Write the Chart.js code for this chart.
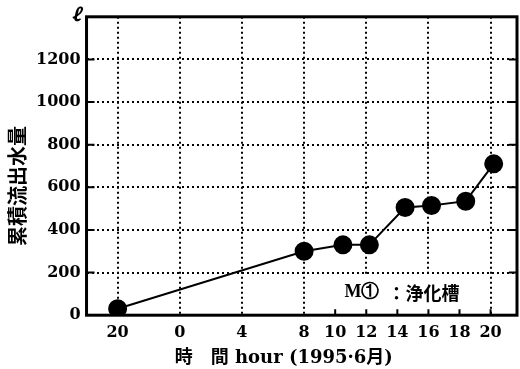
<!DOCTYPE html>
<html lang="ja">
<head>
<meta charset="UTF-8">
<title>累積流出水量</title>
<script src="https://cdn.jsdelivr.net/npm/chart.js"></script>
<style>
  body { margin: 0; background: #fff; }
  #wrap { width: 520px; height: 369px; }
</style>
</head>
<body>
<div id="wrap"><canvas id="flowChart" width="520" height="369"></canvas></div>
<script>
// hours counted from midnight; -4 means 20:00 of the previous day
const hours = [-4, 8, 10.5, 12.2, 14.5, 16.2, 18.4, 20.2];
const flowValues = [30, 300, 330, 330, 505, 515, 535, 710];
const xTickHours = [-4, 0, 4, 8, 10, 12, 14, 16, 18, 20];
const xGridHours = [-4, 0, 4, 8, 12, 16, 20];
const yTicks = [0, 200, 400, 600, 800, 1000, 1200, 1400];
const yUnitLabel = 'ℓ';
const noteText = ['M①', '：浄化槽'];

const serif = "'DejaVu Serif', 'Noto Sans CJK JP', serif";
const cjk = "'Noto Sans CJK JP', 'DejaVu Serif', sans-serif";

// thick frame around the plot + short inward ticks
const framePlugin = {
  id: 'frame',
  afterDraw(chart) {
    const { ctx, chartArea: a, scales: { x, y } } = chart;
    ctx.save();
    ctx.strokeStyle = '#000';
    ctx.lineWidth = 3;
    ctx.strokeRect(a.left, a.top, a.right - a.left, a.bottom - a.top);
    ctx.lineWidth = 2;
    ctx.beginPath();
    yTicks.slice(1, -1).forEach(v => {
      const py = y.getPixelForValue(v);
      ctx.moveTo(a.left, py); ctx.lineTo(a.left + 8, py);
      ctx.moveTo(a.right - 8, py); ctx.lineTo(a.right, py);
    });
    xTickHours.filter(h => h > 8).forEach(h => {
      const px = x.getPixelForValue(h);
      ctx.moveTo(px, a.bottom); ctx.lineTo(px, a.bottom - 6);
    });
    ctx.stroke();
    ctx.restore();
  }
};

// "M① ：浄化槽" label on a white patch
const notePlugin = {
  id: 'note',
  beforeDatasetsDraw(chart) {
    const { ctx, chartArea: a, scales: { x, y } } = chart;
    const px = x.getPixelForValue(10.6);
    const py = y.getPixelForValue(105);
    ctx.save();
    ctx.fillStyle = '#fff';
    ctx.fillRect(px - 10, py - 18, 150, a.bottom - py + 18);
    ctx.fillStyle = '#000';
    ctx.textBaseline = 'middle';
    ctx.font = "bold 18px 'Liberation Serif', serif";
    ctx.fillText(noteText[0], px, py);
    const w = ctx.measureText(noteText[0]).width;
    ctx.font = "bold 18px " + cjk;
    ctx.fillText(noteText[1], px + w + 8, py);
    ctx.restore();
  }
};

new Chart(document.getElementById('flowChart'), {
  type: 'line',
  data: {
    datasets: [{
      data: hours.map((h, i) => ({ x: h, y: flowValues[i] })),
      borderColor: '#000',
      borderWidth: 2,
      backgroundColor: '#000',
      pointRadius: 8.5,
      pointHoverRadius: 8.5,
      tension: 0
    }]
  },
  options: {
    responsive: false,
    animation: false,
    layout: { autoPadding: false, padding: { top: 2, right: 3, left: 5, bottom: 0 } },
    plugins: { legend: { display: false }, tooltip: { enabled: false } },
    scales: {
      x: {
        type: 'linear',
        min: -6,
        max: 21.7,
        afterBuildTicks: s => { s.ticks = xTickHours.map(v => ({ value: v })); },
        ticks: {
          autoSkip: false,
          maxRotation: 0,
          color: '#000',
          padding: 8,
          font: { family: serif, size: 16, weight: 'bold' },
          callback: v => v < 0 ? v + 24 : v
        },
        grid: {
          drawTicks: false,
          lineWidth: 2,
          color: c => xGridHours.includes(c.tick.value) ? '#000' : 'transparent'
        },
        border: { display: false, dash: [2, 3] },
        title: {
          display: true,
          text: '時　間 hour (1995·6月)　　',
          color: '#000',
          padding: { top: -3, bottom: 0 },
          font: { family: serif, size: 18, weight: 'bold' }
        }
      },
      y: {
        min: 0,
        max: 1400,
        afterBuildTicks: s => { s.ticks = yTicks.map(v => ({ value: v })); },
        ticks: {
          color: '#000',
          padding: 6,
          font: c => c.tick && c.tick.value === 1400
            ? { family: serif, size: 18, weight: 'bold', style: 'italic' }
            : { family: serif, size: 16, weight: 'bold' },
          callback: v => v === 1400 ? yUnitLabel : v
        },
        grid: {
          drawTicks: false,
          lineWidth: 2,
          color: c => (c.tick.value > 0 && c.tick.value < 1400) ? '#000' : 'transparent'
        },
        border: { display: false, dash: [2, 3] },
        title: {
          display: true,
          text: '累積流出水量　　',
          color: '#000',
          padding: { top: 0, bottom: 1 },
          font: { family: cjk, size: 20, weight: 'bold' }
        }
      }
    }
  },
  plugins: [notePlugin, framePlugin]
});
</script>
</body>
</html>
